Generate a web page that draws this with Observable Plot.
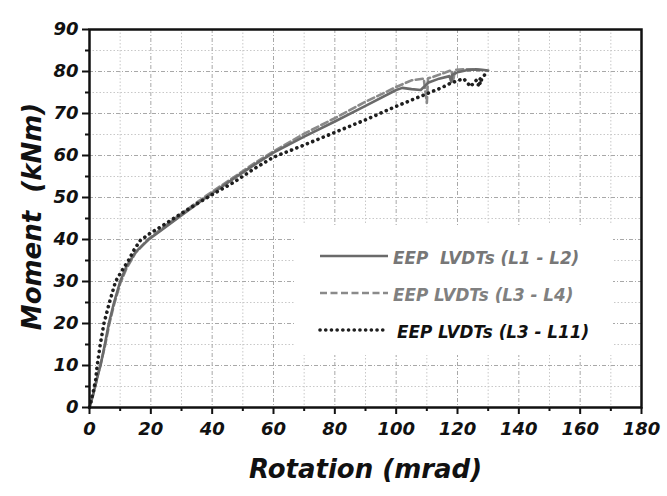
<!DOCTYPE html>
<html>
<head>
<meta charset="utf-8">
<script src="https://cdn.jsdelivr.net/npm/d3@7"></script>
<script src="https://cdn.jsdelivr.net/npm/@observablehq/plot@0.6"></script>
<style>
  body { margin: 0; background: #fff; }
  #wrap { position: relative; width: 667px; height: 496px; overflow: hidden; }
  #legend { position: absolute; left: 295px; top: 225px; width: 318px; height: 130px; background: #fff; }
</style>
</head>
<body>
<div id="wrap"><div id="legend"></div></div>
<script>
// ---- data ----
const rotL1L2 = [0, 1, 2, 3, 3.6, 5, 6.3, 8, 10, 12, 15, 19.3, 23, 29.5, 38, 47, 53.6, 60, 70, 80, 90, 100, 102, 105, 108, 110.6, 114, 117.4, 118, 118.3, 120, 123, 126, 128, 130];
const momL1L2 = [0, 2.5, 5.5, 8.5, 10, 15, 20, 25, 30, 33.5, 37, 40, 42, 45.5, 50, 54.5, 57.7, 60.7, 64.5, 68.1, 71.8, 75.6, 76.1, 75.8, 75.6, 77.4, 78.3, 78.9, 77.5, 79.2, 79.8, 80.3, 80.5, 80.4, 80.2];

const rotL3L4 = [0, 1, 2, 3.5, 5, 6.5, 8, 10, 12, 15, 19, 23, 29.5, 38, 47, 53.6, 60, 70, 80, 90, 100, 105, 109, 110, 110.4, 112, 115, 118, 118.6, 119.2, 122, 125, 128];
const momL3L4 = [0, 2.5, 5.5, 10, 14.5, 20, 24.5, 29.5, 33, 36.8, 40, 42.3, 45.9, 50.4, 54.8, 58.1, 61, 65.2, 68.9, 72.8, 76.3, 77.9, 78.3, 72.5, 78.4, 78.7, 79.5, 80.3, 77.8, 80.4, 80.5, 80.5, 80.3];

const rotL3L11 = [0, 1, 2, 2.5, 3.5, 4.7, 6.5, 8.5, 10.5, 12.7, 14.5, 16.6, 20, 23, 29.5, 35, 40.5, 47, 53.6, 60, 70, 80, 90, 100, 110, 115, 118, 120, 122, 124.3, 125.5, 127, 128, 126.5, 129.7];
const momL3L11 = [0, 3, 6.5, 10, 15, 20, 25, 30, 32.5, 35, 37.5, 39.8, 41.6, 42.9, 46, 48.5, 50.9, 53.6, 56.8, 59.6, 62.5, 65.5, 68.5, 71.7, 74.7, 76.2, 77.3, 77.8, 78.3, 76.4, 77.5, 78.5, 77.8, 76.5, 80.2];

const majorX = [0, 20, 40, 60, 80, 100, 120, 140, 160, 180];
const minorX = [10, 30, 50, 70, 90, 110, 130, 150, 170];
const majorY = [0, 10, 20, 30, 40, 50, 60, 70, 80, 90];
const minorY = [5, 15, 25, 35, 45, 55, 65, 75, 85];

const seriesNames = ["EEP  LVDTs (L1 - L2)", "EEP LVDTs (L3 - L4)", "EEP LVDTs (L3 - L11)"];
const xTitle = "Rotation (mrad)";
const yTitle = "Moment  (kNm)";

// keep doubled spaces visible in SVG text
const keepSpaces = s => s.replace(/  /g, "\u00a0 ");

const toRows = (xs, ys) => xs.map((x, i) => ({x, y: ys[i]}));
const s1 = toRows(rotL1L2, momL1L2);
const s2 = toRows(rotL3L4, momL3L4);
const s3 = toRows(rotL3L11, momL3L11);

const font = "DejaVu Sans";
const tickText = {fontSize: 18, fontWeight: "bold", fontStyle: "italic", fill: "#111"};

const chart = Plot.plot({
  width: 667,
  height: 496,
  marginLeft: 89,
  marginRight: 26,
  marginTop: 29,
  marginBottom: 89,
  style: {fontFamily: font, background: "#fff", overflow: "visible"},
  x: {domain: [0, 180]},
  y: {domain: [0, 90]},
  marks: [
    Plot.ruleX(minorX, {stroke: "#c8c8c8", strokeWidth: 1, strokeDasharray: "1.5,2"}),
    Plot.ruleY(minorY, {stroke: "#c8c8c8", strokeWidth: 1, strokeDasharray: "1.5,2"}),
    Plot.ruleX(majorX, {stroke: "#a8a8a8", strokeWidth: 1, strokeDasharray: "4,2,1,2"}),
    Plot.ruleY(majorY, {stroke: "#a8a8a8", strokeWidth: 1, strokeDasharray: "4,2,1,2"}),
    Plot.axisX({ticks: majorX, tickSize: 7, tickPadding: 8, strokeWidth: 2, stroke: "#111", label: null, ...tickText}),
    Plot.axisX({ticks: minorX, tickSize: 4, strokeWidth: 2, stroke: "#111", text: null, label: null}),
    Plot.axisY({ticks: majorY, tickSize: 7, tickPadding: 4, strokeWidth: 2, stroke: "#111", label: null, ...tickText}),
    Plot.axisY({ticks: minorY, tickSize: 4, strokeWidth: 2, stroke: "#111", text: null, label: null}),
    Plot.line(s2, {x: "x", y: "y", stroke: "#8a8a8a", strokeWidth: 2.6, strokeDasharray: "7,3.5"}),
    Plot.line(s1, {x: "x", y: "y", stroke: "#6a6a6a", strokeWidth: 2.6}),
    Plot.line(s3, {x: "x", y: "y", stroke: "#1e1e1e", strokeWidth: 3.6, strokeDasharray: "0.1,5.6", strokeLinecap: "round"}),
    Plot.frame({stroke: "#111", strokeWidth: 2.5}),
    Plot.text([xTitle], {frameAnchor: "bottom", dy: 62, textAnchor: "middle", lineAnchor: "middle", text: d => d, fontSize: 26, fontWeight: "bold", fontStyle: "italic", fill: "#111"}),
    Plot.text([yTitle], {frameAnchor: "left", dx: -57, dy: -2, rotate: -90, textAnchor: "middle", lineAnchor: "middle", text: d => keepSpaces(d), fontSize: 26, fontWeight: "bold", fontStyle: "italic", fill: "#111"})
  ]
});
const wrap = document.getElementById("wrap");
wrap.insertBefore(chart, wrap.firstChild);

// legend
const legendItems = [
  {name: seriesNames[0], stroke: "#6a6a6a", width: 2.6, dash: null, cap: "butt", color: "#777", y: 31, tx: 98, x2: 93},
  {name: seriesNames[1], stroke: "#8a8a8a", width: 2.6, dash: "7,3.5", cap: "butt", color: "#808080", y: 68, tx: 98, x2: 93},
  {name: seriesNames[2], stroke: "#1e1e1e", width: 3.6, dash: "0.1,5.6", cap: "round", color: "#111", y: 105, tx: 102, x2: 88}
];
const lg = d3.select("#legend").append("svg").attr("width", 318).attr("height", 130);
legendItems.forEach(it => {
  lg.append("line").attr("x1", 25).attr("x2", it.x2).attr("y1", it.y).attr("y2", it.y)
    .attr("stroke", it.stroke).attr("stroke-width", it.width)
    .attr("stroke-dasharray", it.dash).attr("stroke-linecap", it.cap);
  lg.append("text").attr("x", it.tx).attr("y", it.y + 2).attr("dy", "0.35em")
    .attr("font-family", font).attr("font-size", 16.8).attr("font-weight", "bold").attr("font-style", "italic")
    .attr("fill", it.color).text(keepSpaces(it.name));
});
</script>
</body>
</html>
